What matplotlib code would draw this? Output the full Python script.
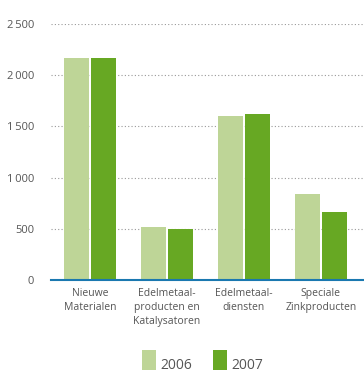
import matplotlib.pyplot as plt
from matplotlib.patches import Rectangle
import numpy as np

categories = ['Nieuwe\nMaterialen', 'Edelmetaal-\nproducten en\nKatalysatoren',
              'Edelmetaal-\ndiensten', 'Speciale\nZinkproducten']
values_2006 = [2170, 515, 1600, 840]
values_2007 = [2170, 498, 1620, 665]
years = ['2006', '2007']
yticks = [0, 500, 1000, 1500, 2000, 2500]
ytick_labels = ['0', '500', '1\u2009000', '1\u2009500', '2\u2009000', '2\u2009500']

light = '#bed597'
dark = '#67a823'
txt = '#555555'

plt.rcParams['font.family'] = ['Open Sans', 'DejaVu Sans']

fig = plt.figure(figsize=(3.64, 3.74), dpi=100)
ax = fig.add_axes([51 / 364, 1 - 280 / 374, 313 / 364, 256 / 374])

x = np.arange(len(categories))
w = 25 / 77
gap = 2 / 77
ax.bar(x - (w + gap) / 2, values_2006, w, color=light, zorder=2)
ax.bar(x + (w + gap) / 2, values_2007, w, color=dark, zorder=2)

ax.set_xlim(-0.506, 3.56)
ax.set_ylim(0, 2500)
ax.set_yticks(yticks)
ax.set_yticklabels(ytick_labels, fontsize=8, color=txt)
ax.set_xticks(x)
ax.set_xticklabels(categories, fontsize=7.5, color=txt, linespacing=1.35)
ax.tick_params(length=0)
ax.tick_params(axis='y', pad=12)
ax.tick_params(axis='x', pad=6)

for v in yticks[1:]:
    ax.axhline(v, color='#999999', linestyle=(0, (1, 2)), linewidth=0.8, zorder=1)
ax.axhline(0, color='#1a78b0', linewidth=1.5, zorder=3, clip_on=False)

for s in ax.spines.values():
    s.set_visible(False)

# legend drawn by hand: swatch bottom aligned with text baseline
for i, (yr, col) in enumerate(zip(years, [light, dark])):
    x0 = (142 + i * 71) / 364
    fig.add_artist(Rectangle((x0, 1 - 370 / 374), 14 / 364, 20 / 374,
                             transform=fig.transFigure, color=col, lw=0))
    fig.text(x0 + 18 / 364, 1 - 369 / 374, yr, fontsize=10, color=txt,
             va='baseline', ha='left')

fig.savefig('out.png', dpi=100)
